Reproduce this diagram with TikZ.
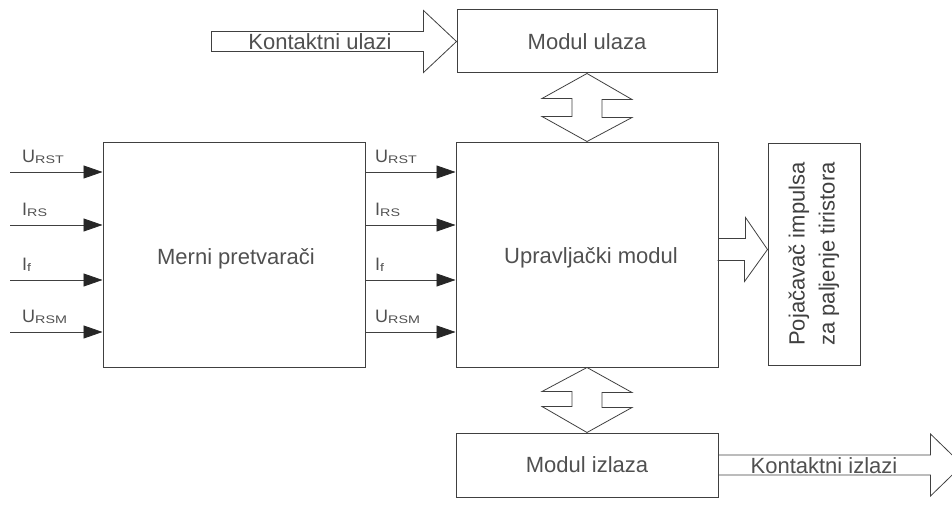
\documentclass[tikz,border=0pt]{standalone}
\usepackage{fontspec}
\usepackage{graphicx}
\setmainfont{Liberation Sans}
\usetikzlibrary{arrows.meta,calc}
\definecolor{ln}{HTML}{404040}
\definecolor{tx}{HTML}{505050}
\definecolor{tip}{HTML}{262626}
\newcommand\sbs[1]{\raisebox{-1pt}{\scalebox{1.3}[1]{\fontsize{11}{11}\selectfont #1}}}
\begin{document}
\begin{tikzpicture}[x=1pt,y=-1pt,
 box/.style={draw=ln,line width=1pt,inner sep=0pt,font=\fontsize{22}{26}\selectfont,text=tx},
 sig/.style={draw=ln,line width=0.8pt,-{Triangle[length=19pt,width=13pt,color=tip]}},
 fat/.style={draw=ln,line width=0.8pt,line join=miter},
 lbl/.style={text=tx,font=\fontsize{18}{20}\selectfont,inner sep=0pt,anchor=base west},
 ftxt/.style={text=tx,font=\fontsize{22}{26}\selectfont,inner sep=0pt}]
\useasboundingbox (0,0) rectangle (952,524);

% boxes
\node[box,minimum width=260pt,minimum height=63pt] (mu) at (587,41.5) {Modul ulaza};
\node[box,minimum width=262pt,minimum height=225pt] (mp) at (234,254.5) {};
\node[ftxt] (mpt) at (236,259) {Merni pretvarači};
\node[box,minimum width=262pt,minimum height=225pt] (up) at (587,254.5) {};
\node[ftxt] (upt) at (591,258) {Upravljački modul};
\node[box,minimum width=262pt,minimum height=64pt] (mi) at (587,465) {Modul izlaza};
\node[box,minimum width=92pt,minimum height=222pt] (pj) at (814,254) {};
\node[text=ln,font=\fontsize{22}{30}\selectfont,rotate=90,align=center,inner sep=0pt] (pjt) at (pj.center) {Pojačavač impulsa\\za paljenje tiristora};

% hollow arrows
\draw[fat] (mu.west) -- ++(-33,-31) -- ++(0,21) -- ++(-212,0) -- ++(0,20) -- ++(212,0) -- ++(0,21) -- cycle;
\node[ftxt] (ku) at (320,41.5) {Kontaktni ulazi};

\draw[fat] ($(mi.east)+(0,-10)$) -- ++(212,0) -- ++(0,-21) -- ++(32,31) -- ++(-32,31) -- ++(0,-21) -- ++(-212,0);
\node[ftxt] (ki) at (824,466) {Kontaktni izlazi};

\draw[fat] ($(up.east)+(0,-16)$) -- ++(27,0) -- ++(0,-21) -- (pj.west |- 0,249.5) -- ++(-23,32) -- ++(0,-21) -- ++(-27,0);

\draw[fat] (mu.south) -- ++(45,26) -- ++(-30,0) -- ++(0,18) -- ++(30,0) -- (up.north) -- ++(-45,-25) -- ++(30,0) -- ++(0,-18) -- ++(-30,0) -- cycle;
\draw[fat] (up.south) -- ++(45,25) -- ++(-30,0) -- ++(0,15) -- ++(30,0) -- (mi.north) -- ++(-45,-26) -- ++(30,0) -- ++(0,-15) -- ++(-30,0) -- cycle;

% signals
\coordinate (in1) at (10,172);
\coordinate (in2) at (10,225);
\coordinate (in3) at (10,280);
\coordinate (in4) at (10,332);
\foreach \c in {in1,in2,in3,in4}{
  \draw[sig] (\c) -- (\c -| mp.west);
  \draw[sig] (\c -| mp.east) -- (\c -| up.west);
}
\node[lbl] (l1) at (22,162) {U\sbs{RST}};
\node[lbl] (l2) at (22,215) {I\sbs{RS}};
\node[lbl] (l3) at (22,270) {I\sbs{f}};
\node[lbl] (l4) at (22,322) {U\sbs{RSM}};
\node[lbl] (m1) at (375,162) {U\sbs{RST}};
\node[lbl] (m2) at (375,215) {I\sbs{RS}};
\node[lbl] (m3) at (375,270) {I\sbs{f}};
\node[lbl] (m4) at (375,322) {U\sbs{RSM}};
\end{tikzpicture}
\end{document}
